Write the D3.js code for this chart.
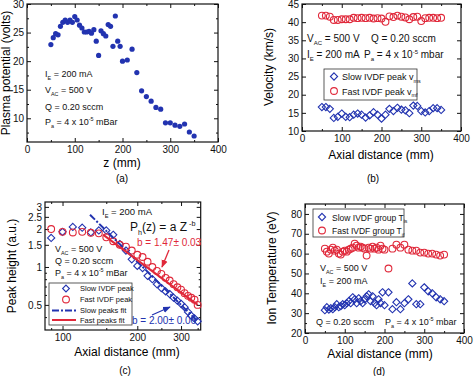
<!DOCTYPE html>
<html>
<head>
<meta charset="utf-8">
<script src="https://cdn.jsdelivr.net/npm/d3@7/dist/d3.min.js"></script>
<style>
  body { margin: 0; background: #fff; }
  svg { font-family: "Liberation Sans", Arial, sans-serif; }
  .tick text { font-size: 10px; fill: #111; }
  .tick line { stroke: #111; }
</style>
</head>
<body>
<div id="fig"></div>
<script>
var blue = "#2233b0", red = "#e0283a";

// (a) plasma potential vs z
var zA = [50,55,60,65,70,75,80,85,90,95,100,105,110,115,120,125,130,135,140,145,150,155,160,165,170,175,180,185,190,195,200,
          210,220,230,240,250,260,270,280,290,300,310,320,330,340,350];
var potA = [22.9,24.1,24.8,24.6,26.1,26.8,27.2,26.8,27.2,26.8,27.8,27.2,26.3,25.8,25.1,25.1,25.2,24.9,25.5,23.5,21.0,25.3,24.8,24.4,26.4,26.1,22.6,27.9,23.5,22.6,20.0,
          20.2,22.1,18.0,14.8,13.8,13.0,11.9,11.6,9.2,9.2,8.8,8.6,9.0,7.6,6.9];

// (b) velocities
var distB = [50,60,70,80,90,100,110,120,130,140,150,160,170,180,190,200,210,220,230,240,250,260,270,280,290,300,310,320,330,340,350];
var slowVel = [16.6,16.6,16.1,13.6,13.9,14.8,13.9,13.8,14.5,14.8,14.5,13.7,14.3,15.2,14.5,13.4,14.5,16.1,15.5,16.4,15.9,15.7,14.9,17.0,16.9,15.5,15.1,15.5,16.3,16.3,15.8];
var fastVel = [41.8,41.8,41.5,40.6,40.6,40.8,40.8,40.8,41.2,41.1,41.2,41.1,41.2,41.0,41.1,41.0,40.1,41.6,41.4,41.8,41.5,41.3,40.8,41.4,41.5,40.3,41.1,41.2,41.2,41.1,41.2];

// (c) peak heights, log-log
var distC = [90,100,110,120,130,140,150,160,170,180,190,200,210,220,230,240,250,260,270,280,290,300,310,320,330,340,350];
var slowPeak = [1.70,1.90,2.08,2.05,1.88,1.95,1.95,1.80,1.52,1.35,1.15,1.02,0.98,0.85,0.80,0.73,0.68,0.64,0.61,0.57,0.54,0.51,0.48,0.44,0.41,0.39,0.37];
var fastPeak = [2.00,1.90,1.88,1.90,1.87,1.85,1.72,1.60,1.50,1.45,1.35,1.25,1.20,1.10,1.00,0.93,0.88,0.82,0.78,0.73,0.69,0.66,0.62,0.59,0.57,0.55,0.50];
var slowFitZ = [129, 350], slowFitP = [2.6, 0.37];
var fastFitZ = [146, 350], fastFitP = [1.8, 0.5];

// (d) ion temperatures
var distD = [50,55,60,65,70,75,80,85,90,95,100,105,110,115,120,125,130,135,140,145,150,155,160,165,170,175,180,185,190,195,200,
             210,220,230,240,250,260,270,280,290,300,310,320,330,340,350];
var slowT = [31.5,33,31.8,32.5,32,33,34.5,33,33.5,34.5,34,35,36,35,38,37,35,37.5,36,35,37,38.5,39.5,36,38.5,35,34,37,35,40.5,34,
             40.5,32,35.5,32,35,37,45,34.5,34.5,43,41,40,38,37,36];
var fastT = [62.5,61,60,62,63,61.5,62,60,59.5,61,61.5,61,62,62.5,63,65,64,63,63.5,63,62.5,59,63,62.5,63.5,62.5,63,62,64,62.5,62,
             52.5,62.5,64.5,63,64.5,62,61.5,61.5,60.5,60.5,60,60,59.5,59,59.5];

var ticksA = [0,100,200,300,400], ticksAy = [10,15,20,25,30];
var ticksB = [0,100,200,300,400], ticksBy = [10,15,20,25,30,35,40,45];
var ticksC = [100,200,300], ticksCy = [0.5,1,1.5,2,2.5,3];
var ticksD = [0,100,200,300,400], ticksDy = [20,30,40,50,60,70,80];

var svg = d3.select("#fig").append("svg").attr("width", 474).attr("height", 376);

// draws a boxed frame with inward ticks on all four sides
function frame(x, y, xt, yt, xm, ym, fmtX, fmtY) {
  var xr = x.range(), yr = y.range();
  var g = svg.append("g");
  g.append("g").attr("transform", "translate(0," + yr[0] + ")")
    .call(d3.axisBottom(x).tickValues(xt).tickSizeInner(-4).tickSizeOuter(0).tickPadding(4).tickFormat(fmtX || d3.format("d")));
  g.append("g").attr("transform", "translate(" + xr[0] + ",0)")
    .call(d3.axisLeft(y).tickValues(yt).tickSizeInner(-4).tickSizeOuter(0).tickPadding(3).tickFormat(fmtY || d3.format("d")));
  g.append("g").attr("transform", "translate(0," + yr[1] + ")")
    .call(d3.axisTop(x).tickValues(xt).tickSizeInner(-4).tickSizeOuter(0).tickFormat(""));
  g.append("g").attr("transform", "translate(" + xr[1] + ",0)")
    .call(d3.axisRight(y).tickValues(yt).tickSizeInner(-4).tickSizeOuter(0).tickFormat(""));
  if (xm) {
    g.append("g").attr("transform", "translate(0," + yr[0] + ")").call(d3.axisBottom(x).tickValues(xm).tickSize(-2).tickFormat(""));
    g.append("g").attr("transform", "translate(0," + yr[1] + ")").call(d3.axisTop(x).tickValues(xm).tickSize(-2).tickFormat(""));
  }
  if (ym) {
    g.append("g").attr("transform", "translate(" + xr[0] + ",0)").call(d3.axisLeft(y).tickValues(ym).tickSize(-2).tickFormat(""));
    g.append("g").attr("transform", "translate(" + xr[1] + ",0)").call(d3.axisRight(y).tickValues(ym).tickSize(-2).tickFormat(""));
  }
  g.selectAll(".domain").remove();
  g.append("rect").attr("x", xr[0]).attr("y", yr[1]).attr("width", xr[1] - xr[0]).attr("height", yr[0] - yr[1])
    .attr("fill", "none").attr("stroke", "#111").attr("stroke-width", 1.2);
  return g;
}

// text with optional sub/superscript pieces: parts = [[text, "sub"|"sup"|"back", dy], ...]
function rich(x, y, parts, size, color, anchor) {
  var t = svg.append("text").attr("x", x).attr("y", y).attr("font-size", size).attr("fill", color || "#111")
    .attr("text-anchor", anchor || "start");
  parts.forEach(function(p) {
    var s = t.append("tspan").text(p[0]);
    if (p[1] == "sub") s.attr("font-size", size * 0.6).attr("dy", size * 0.3);
    else if (p[1] == "sup") s.attr("font-size", size * 0.6).attr("dy", -size * 0.4);
    else if (p[1] == "back") s.attr("dy", p[2]);
  });
  return t;
}

function diamond(s) { return "M0," + (-s) + "L" + s + ",0L0," + s + "L" + (-s) + ",0Z"; }

function ylabel(x, y, txt) {
  svg.append("text").attr("transform", "translate(" + x + "," + y + ") rotate(-90)")
    .attr("text-anchor", "middle").attr("font-size", 12).text(txt);
}
function xlabel(x, y, txt, size) {
  svg.append("text").attr("x", x).attr("y", y).attr("text-anchor", "middle").attr("font-size", size || 12).text(txt);
}

// ---------- (a) ----------
var xa = d3.scaleLinear().domain([0, 400]).range([27, 218]);
var ya = d3.scaleLinear().domain([5.85, 30]).range([142, 4]);
frame(xa, ya, ticksA, ticksAy, [50,150,250,350], [7.5,12.5,17.5,22.5,27.5]);
svg.append("g").selectAll("circle").data(zA).enter().append("circle")
  .attr("cx", function(d) { return xa(d); })
  .attr("cy", function(d, i) { return ya(potA[i]); })
  .attr("r", 2.6).attr("fill", blue);
rich(45, 77, [["I"], ["E", "sub"], [" = 200 mA", "back", -2.7]], 9);
rich(45, 93, [["V"], ["AC", "sub"], [" = 500 V", "back", -2.7]], 9);
rich(45, 110, [["Q = 0.20 sccm"]], 9);
rich(45, 125, [["P"], ["a", "sub"], [" = 4 x 10", "back", -2.7], ["-5", "sup"], [" mBar", "back", 3.6]], 9);
ylabel(10, 73, "Plasma potential (volts)");
xlabel(122, 167, "z (mm)");
xlabel(122, 182, "(a)", 10);

// ---------- (b) ----------
var xb = d3.scaleLinear().domain([0, 400]).range([302, 461]);
var yb = d3.scaleLinear().domain([10, 45]).range([131, 4]);
frame(xb, yb, ticksB, ticksBy, [50,150,250,350], null);
svg.append("g").selectAll("path").data(distB).enter().append("path")
  .attr("d", diamond(3.6))
  .attr("transform", function(d, i) { return "translate(" + xb(d) + "," + yb(slowVel[i]) + ")"; })
  .attr("fill", "none").attr("stroke", blue).attr("stroke-width", 1.1);
svg.append("g").selectAll("circle").data(distB).enter().append("circle")
  .attr("cx", function(d) { return xb(d); })
  .attr("cy", function(d, i) { return yb(fastVel[i]); })
  .attr("r", 3.4).attr("fill", "none").attr("stroke", red).attr("stroke-width", 1.1);
rich(307, 42, [["V"], ["AC", "sub"], [" = 500 V", "back", -3]], 10);
rich(371, 42, [["Q = 0.20 sccm"]], 10);
rich(307, 58, [["I"], ["E", "sub"], [" = 200 mA", "back", -3]], 10);
rich(364, 58, [["P"], ["a", "sub"], [" = 4 x 10", "back", -3], ["-5", "sup"], [" mbar", "back", 4]], 10);
svg.append("rect").attr("x", 324).attr("y", 69).attr("width", 93).attr("height", 31)
  .attr("fill", "none").attr("stroke", "#333").attr("stroke-width", 0.8);
svg.append("path").attr("d", diamond(3.6)).attr("transform", "translate(334,76.5)")
  .attr("fill", "none").attr("stroke", blue).attr("stroke-width", 1.1);
svg.append("circle").attr("cx", 334).attr("cy", 91).attr("r", 3.4).attr("fill", "none").attr("stroke", red).attr("stroke-width", 1.1);
rich(342, 80, [["Slow IVDF peak v"], ["ms", "sub"]], 9);
rich(342, 94.5, [["Fast IVDF peak  v"], ["mf", "sub"]], 9);
ylabel(273, 67, "Velocity  (km/s)");
xlabel(381, 159, "Axial distance (mm)");
xlabel(373, 182, "(b)", 10);

// ---------- (c) ----------
var xc = d3.scaleLog().domain([85, 360]).range([45, 200.7]);
var yc = d3.scaleLog().domain([0.316, 3.28]).range([330, 202]);
frame(xc, yc, ticksC, ticksCy, [90,150,250,350], [0.4,0.6,0.7,0.8,0.9], d3.format("d"), function(d) { return d; });
svg.append("g").selectAll("path").data(distC).enter().append("path")
  .attr("d", diamond(3.6))
  .attr("transform", function(d, i) { return "translate(" + xc(d) + "," + yc(slowPeak[i]) + ")"; })
  .attr("fill", "none").attr("stroke", blue).attr("stroke-width", 1.1);
svg.append("g").selectAll("circle").data(distC).enter().append("circle")
  .attr("cx", function(d) { return xc(d); })
  .attr("cy", function(d, i) { return yc(fastPeak[i]); })
  .attr("r", 3.4).attr("fill", "none").attr("stroke", red).attr("stroke-width", 1.1);
var fitLine = d3.line().x(function(d) { return xc(d[0]); }).y(function(d) { return yc(d[1]); });
svg.append("path").datum(d3.zip(slowFitZ, slowFitP)).attr("d", fitLine)
  .attr("stroke", blue).attr("stroke-width", 2).attr("fill", "none").attr("stroke-dasharray", "7,2,2,2");
svg.append("path").datum(d3.zip(fastFitZ, fastFitP)).attr("d", fitLine)
  .attr("stroke", red).attr("stroke-width", 2).attr("fill", "none");

svg.append("defs").selectAll("marker").data([["ar", red], ["ab", blue]]).enter().append("marker")
  .attr("id", function(d) { return d[0]; }).attr("viewBox", "0 0 10 10").attr("refX", 9).attr("refY", 5)
  .attr("markerWidth", 6).attr("markerHeight", 6).attr("orient", "auto")
  .append("path").attr("d", "M0,1L10,5L0,9Z").attr("fill", function(d) { return d[1]; });
svg.append("line").attr("x1", 169).attr("y1", 250).attr("x2", 162).attr("y2", 267)
  .attr("stroke", red).attr("stroke-width", 1.3).attr("marker-end", "url(#ar)");
svg.append("line").attr("x1", 152).attr("y1", 315).attr("x2", 170).attr("y2", 307)
  .attr("stroke", blue).attr("stroke-width", 1.3).attr("marker-end", "url(#ab)");

rich(102, 215, [["I"], ["E", "sub"], [" = 200 mA", "back", -2.8]], 9.5);
rich(130, 231, [["P"], ["h", "sub"], ["(z) = a Z", "back", -3.6], [" -b", "sup"]], 12);
rich(137, 246, [["b = 1.47± 0.03"]], 10, red);
rich(55, 252, [["V"], ["AC", "sub"], [" = 500 V", "back", -2.7]], 9);
rich(55, 264, [["Q = 0.20 sccm"]], 9);
rich(55, 276, [["P"], ["a", "sub"], [" = 4 x 10", "back", -2.7], ["-5", "sup"], [" mBar", "back", 3.6]], 9);
rich(132, 324, [["b = 2.00± 0.06"]], 10, blue);

svg.append("rect").attr("x", 49).attr("y", 283).attr("width", 83).attr("height", 42)
  .attr("fill", "#fff").attr("stroke", "#333").attr("stroke-width", 0.8);
svg.append("path").attr("d", diamond(3.4)).attr("transform", "translate(66,288.5)")
  .attr("fill", "none").attr("stroke", blue).attr("stroke-width", 1.1);
svg.append("circle").attr("cx", 66).attr("cy", 299.5).attr("r", 3.4).attr("fill", "none").attr("stroke", red).attr("stroke-width", 1.1);
svg.append("line").attr("x1", 52).attr("x2", 76).attr("y1", 310.5).attr("y2", 310.5)
  .attr("stroke", blue).attr("stroke-width", 2).attr("stroke-dasharray", "7,2,2,2");
svg.append("line").attr("x1", 52).attr("x2", 76).attr("y1", 320).attr("y2", 320)
  .attr("stroke", red).attr("stroke-width", 2);
rich(80, 291, [["Slow IVDF peak"]], 7.5);
rich(80, 302, [["Fast IVDF peak"]], 7.5);
rich(80, 313, [["Slow peaks fit"]], 7.5);
rich(80, 322.5, [["Fast peaks fit"]], 7.5);
ylabel(16, 266, "Peak height (a.u.)");
xlabel(127, 356, "Axial distance (mm)");
xlabel(125, 374, "(c)", 10);

// ---------- (d) ----------
var xd = d3.scaleLinear().domain([0, 400]).range([305, 464]);
var yd = d3.scaleLinear().domain([20, 85]).range([333, 204]);
frame(xd, yd, ticksD, ticksDy, [50,150,250,350], [25,35,45,55,65,75]);
svg.append("g").selectAll("path").data(distD).enter().append("path")
  .attr("d", diamond(3.6))
  .attr("transform", function(d, i) { return "translate(" + xd(d) + "," + yd(slowT[i]) + ")"; })
  .attr("fill", "none").attr("stroke", blue).attr("stroke-width", 1.1);
svg.append("g").selectAll("circle").data(distD).enter().append("circle")
  .attr("cx", function(d) { return xd(d); })
  .attr("cy", function(d, i) { return yd(fastT[i]); })
  .attr("r", 3.4).attr("fill", "none").attr("stroke", red).attr("stroke-width", 1.1);
svg.append("rect").attr("x", 313).attr("y", 209).attr("width", 91).attr("height", 28)
  .attr("fill", "#fff").attr("stroke", "#333").attr("stroke-width", 0.8);
svg.append("path").attr("d", diamond(3.6)).attr("transform", "translate(322,217)")
  .attr("fill", "none").attr("stroke", blue).attr("stroke-width", 1.1);
svg.append("circle").attr("cx", 322).attr("cy", 230.5).attr("r", 3.4).attr("fill", "none").attr("stroke", red).attr("stroke-width", 1.1);
rich(332, 220.5, [["Slow IVDF group T"], ["is", "sub"]], 8.5);
rich(332, 234, [["Fast IVDF group T"], ["if", "sub"]], 8.5);
rich(320, 271, [["V"], ["AC", "sub"], [" = 500 V", "back", -2.7]], 9);
rich(320, 284, [["I"], ["E", "sub"], [" = 200 mA", "back", -2.7]], 9);
rich(316, 325, [["Q = 0.20 sccm"]], 9);
rich(385, 325, [["P"], ["a", "sub"], [" = 4 x 10", "back", -2.7], ["-5", "sup"], [" mbar", "back", 3.6]], 9);
ylabel(276, 268, "Ion Temperature (eV)");
xlabel(380, 358, "Axial distance (mm)");
xlabel(379, 375, "(d)", 10);
</script>
</body>
</html>
